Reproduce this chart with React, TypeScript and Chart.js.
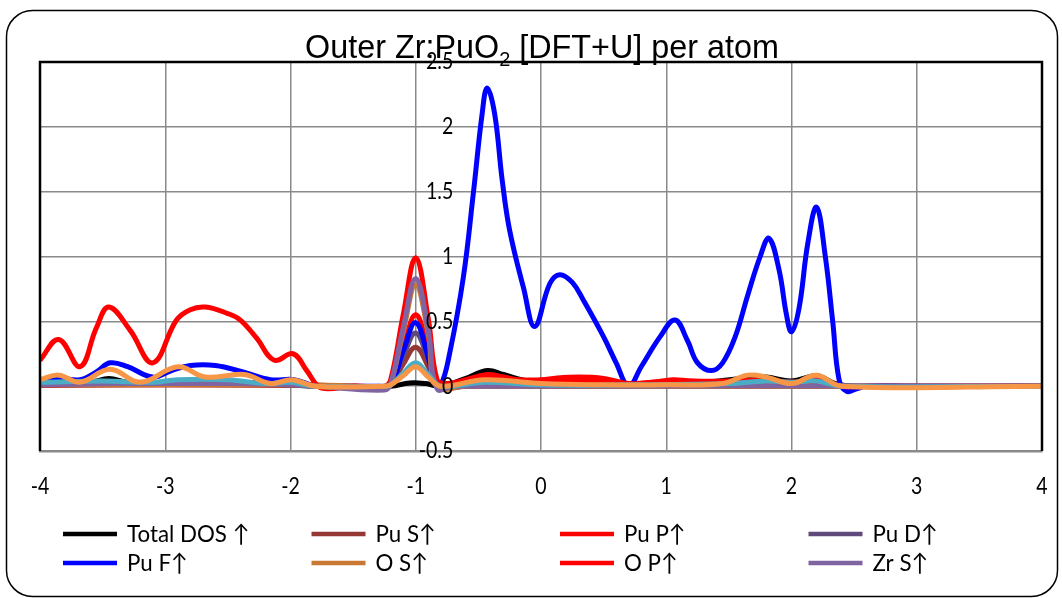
import { useEffect, useRef } from "react";
import { Chart, registerables } from "chart.js";

Chart.register(...registerables);

// Energy axis (eV) and DOS axis limits
const xTicks = [-4, -3, -2, -1, 0, 1, 2, 3, 4];
const yTicks = [-0.5, 0, 0.5, 1, 1.5, 2, 2.5];

// Total DOS
const totalX = [-4, -3.6, -3.45, -3.3, -3, -2.7, -2.4, -2, -1.8, -1.2, -1.05, -0.92, -0.8, -0.6, -0.43, -0.3, -0.1, 0.2, 0.5, 0.7, 1.0, 1.3, 1.6, 1.8, 2.0, 2.2, 2.35, 2.5, 4];
const totalY = [0.02, 0.03, 0.06, 0.03, 0.02, 0.03, 0.03, 0.01, 0, 0, 0.025, 0.02, 0, 0.06, 0.12, 0.09, 0.04, 0.04, 0.04, 0.01, 0.03, 0.03, 0.06, 0.07, 0.04, 0.08, 0.02, 0, 0];

// Pu s
const puSX = [-4, -3, -2, -1.5, -1.25, -1.2, -1.1, -1.0, -0.9, -0.83, -0.6, 4];
const puSY = [0.005, 0.01, 0.005, 0, -0.01, 0.01, 0.17, 0.3, 0.15, 0, 0, 0];

// Pu p
const puPX = [-4, -3, -2, -1.5, -1.25, -1.2, -1.1, -1.0, -0.9, -0.83, -0.6, -0.43, -0.2, 0.3, 0.7, 1.05, 1.5, 2.0, 2.4, 4];
const puPY = [0.01, 0.01, 0.01, 0, -0.01, 0.03, 0.3, 0.55, 0.28, 0.02, 0.04, 0.08, 0.05, 0.05, 0.02, 0.04, 0.03, 0.03, 0, 0];

// Pu d
const puDX = [-4, -3.4, -2.9, -2.4, -2, -1.8, -1.25, -1.2, -1.1, -1.0, -0.9, -0.83, -0.6, 4];
const puDY = [0.01, 0.02, 0.02, 0.02, 0.01, 0, -0.02, 0.01, 0.23, 0.41, 0.2, 0, 0, 0];

// Pu f
const puFX = [-4, -3.84, -3.68, -3.55, -3.44, -3.3, -3.1, -2.95, -2.8, -2.6, -2.38, -2.16, -1.97, -1.8, -1.6, -1.3, -1.2, -1.1, -1.0, -0.9, -0.85, -0.8, -0.73, -0.62, -0.54, -0.47, -0.43, -0.37, -0.31, -0.25, -0.14, -0.05, 0.07, 0.15, 0.25, 0.34, 0.5, 0.6, 0.7, 0.8, 0.95, 1.07, 1.17, 1.25, 1.36, 1.45, 1.55, 1.65, 1.75, 1.82, 1.9, 1.96, 2.0, 2.06, 2.13, 2.2, 2.27, 2.33, 2.38, 2.44, 2.52, 2.6, 3, 4];
const puFY = [0.04, 0.06, 0.05, 0.11, 0.18, 0.15, 0.07, 0.12, 0.16, 0.16, 0.11, 0.05, 0.05, 0, 0, 0, 0.01, 0.27, 0.49, 0.22, 0.03, 0.01, 0.25, 0.84, 1.49, 2.1, 2.3, 2.1, 1.59, 1.2, 0.76, 0.46, 0.79, 0.86, 0.8, 0.66, 0.38, 0.18, 0, 0.15, 0.38, 0.51, 0.35, 0.18, 0.12, 0.18, 0.38, 0.7, 1.0, 1.14, 0.9, 0.55, 0.42, 0.6, 1.1, 1.38, 1.0, 0.49, 0.05, -0.04, -0.02, 0, 0, 0];

// O s
const oSX = [-4, -3, -2, -1.5, -1.25, -1.2, -1.1, -1.0, -0.9, -0.83, -0.6, 4];
const oSY = [0.01, 0.01, 0.01, 0, -0.02, 0.02, 0.42, 0.78, 0.4, 0, 0, 0];

// O p
const oPX = [-4, -3.85, -3.68, -3.55, -3.45, -3.28, -3.1, -2.91, -2.8, -2.68, -2.5, -2.4, -2.27, -2.13, -1.98, -1.87, -1.78, -1.7, -1.5, -1.25, -1.2, -1.1, -1.0, -0.9, -0.83, -0.75, -0.6, -0.43, -0.3, -0.1, 0.1, 0.3, 0.5, 0.7, 0.9, 1.05, 1.2, 1.5, 1.8, 2.0, 2.2, 2.4, 2.6, 4];
const oPY = [0.2, 0.36, 0.15, 0.45, 0.61, 0.43, 0.18, 0.51, 0.59, 0.61, 0.56, 0.51, 0.37, 0.2, 0.25, 0.12, 0, -0.02, 0, 0, 0.05, 0.55, 0.99, 0.52, 0.05, 0.02, 0.05, 0.09, 0.07, 0.04, 0.06, 0.07, 0.06, 0.02, 0.03, 0.05, 0.04, 0.04, 0.05, 0.03, 0.05, 0, 0, 0];

// Zr s
const zrSX = [-4, -3.4, -2.9, -2.4, -2, -1.8, -1.25, -1.2, -1.1, -1.0, -0.9, -0.83, -0.7, 4];
const zrSY = [0.01, 0.02, 0.02, 0.02, 0.01, 0, -0.03, 0.02, 0.45, 0.83, 0.43, -0.02, 0, 0];

// Zr p
const zrPX = [-4, -3.5, -3.1, -2.9, -2.5, -2.2, -2, -1.8, -1.25, -1.2, -1.1, -1.0, -0.9, -0.8, -0.45, 0, 0.7, 1.5, 1.8, 2.0, 2.2, 2.4, 4];
const zrPY = [0.03, 0.04, 0.03, 0.05, 0.05, 0.02, 0.03, 0, 0, 0.01, 0.1, 0.18, 0.09, 0, 0.03, 0.01, 0.01, 0.02, 0.04, 0.03, 0.04, 0, 0];

// Zr d
const zrDX = [-4, -3.85, -3.68, -3.44, -3.2, -2.9, -2.68, -2.37, -2.16, -1.99, -1.8, -1.25, -1.2, -1.1, -1.0, -0.9, -0.8, -0.45, 0, 0.5, 1.0, 1.45, 1.65, 1.8, 2.0, 2.2, 2.4, 4];
const zrDY = [0.05, 0.085, 0.03, 0.13, 0.03, 0.15, 0.07, 0.09, 0.02, 0.05, 0, 0, 0.01, 0.08, 0.15, 0.07, 0, 0.05, 0.02, 0.01, 0.01, 0.02, 0.085, 0.07, 0.02, 0.085, 0, 0];

const seriesLabels = ["Total DOS ↑", "Pu S↑", "Pu P↑", "Pu D↑", "Pu F↑", "O S↑", "O P↑", "Zr S↑", "Zr P↑", "Zr D↑"];
const seriesColors = ["#000000", "#953735", "#FF0000", "#604A7B", "#0000FF", "#C87832", "#FF0000", "#8064A2", "#4BACC6", "#F79646"];
const seriesX = [totalX, puSX, puPX, puDX, puFX, oSX, oPX, zrSX, zrPX, zrDX];
const seriesY = [totalY, puSY, puPY, puDY, puFY, oSY, oPY, zrSY, zrPY, zrDY];
const legendCount = 8;

const LABEL_FONT = 'Lato, "Open Sans", sans-serif';
const TITLE_FONT = '"Liberation Sans", Arial, sans-serif';

// Draws text squeezed horizontally by sx around its anchor
function squeezedText(ctx: CanvasRenderingContext2D, text: string, x: number, y: number, sx: number) {
  ctx.save();
  ctx.translate(x, y);
  ctx.scale(sx, 1);
  ctx.fillText(text, 0, 0);
  ctx.restore();
}

const framePlugin = {
  id: "frame",
  beforeDraw(chart: Chart) {
    const ctx = chart.ctx;
    ctx.save();
    ctx.fillStyle = "#ffffff";
    ctx.fillRect(0, 0, chart.width, chart.height);
    ctx.strokeStyle = "#000000";
    ctx.lineWidth = 1.5;
    ctx.beginPath();
    ctx.roundRect(6.5, 10.5, 1051, 586, 26);
    ctx.stroke();
    ctx.restore();
  },
  afterDatasetsDraw(chart: Chart) {
    const { ctx, chartArea: a } = chart;
    ctx.save();
    ctx.strokeStyle = "#000000";
    ctx.lineWidth = 2.5;
    ctx.beginPath();
    ctx.moveTo(a.left, a.bottom);
    ctx.lineTo(a.left, a.top);
    ctx.lineTo(a.right, a.top);
    ctx.lineTo(a.right, a.bottom);
    ctx.stroke();

    // axis tick labels, drawn above the curves
    const xs = chart.scales.x;
    const ys = chart.scales.y;
    ctx.fillStyle = "#000000";
    ctx.font = `23px ${LABEL_FONT}`;
    ctx.textBaseline = "middle";
    ctx.textAlign = "center";
    for (const t of xs.ticks) {
      squeezedText(ctx, String(t.value), xs.getPixelForValue(t.value), 487, 0.85);
    }
    ctx.textAlign = "right";
    const yLabelRight = xs.getPixelForValue(-0.7);
    for (const t of ys.ticks) {
      squeezedText(ctx, String(t.value), yLabelRight, ys.getPixelForValue(t.value), 0.85);
    }
    ctx.restore();
  },
  afterDraw(chart: Chart) {
    const ctx = chart.ctx;
    ctx.save();
    // title with subscript, fitted to its width
    const size = 34;
    const parts: [string, boolean][] = [["Outer Zr:PuO", false], ["2", true], [" [DFT+U] per atom", false]];
    const fontMain = `${size}px ${TITLE_FONT}`;
    const fontSub = `${Math.round(size * 0.62)}px ${TITLE_FONT}`;
    let total = 0;
    for (const [t, sub] of parts) {
      ctx.font = sub ? fontSub : fontMain;
      total += ctx.measureText(t).width;
    }
    const titleWidth = 474;
    const sx = titleWidth / total;
    ctx.translate(542 - titleWidth / 2, 0);
    ctx.scale(sx, 1);
    let x = 0;
    ctx.fillStyle = "#000000";
    ctx.textBaseline = "alphabetic";
    ctx.textAlign = "left";
    for (const [t, sub] of parts) {
      ctx.font = sub ? fontSub : fontMain;
      ctx.fillText(t, x, sub ? 66 : 58);
      x += ctx.measureText(t).width;
    }
    ctx.setTransform(1, 0, 0, 1, 0, 0);
    // legend: two rows of four
    ctx.font = `24px ${LABEL_FONT}`;
    ctx.textBaseline = "middle";
    ctx.textAlign = "left";
    for (let i = 0; i < legendCount; i++) {
      const col = i % 4;
      const row = Math.floor(i / 4);
      const lx = 63 + col * 248.5;
      const ly = 534 + row * 29;
      ctx.strokeStyle = seriesColors[i];
      ctx.lineWidth = 4.5;
      ctx.beginPath();
      ctx.moveTo(lx, ly);
      ctx.lineTo(lx + 54, ly);
      ctx.stroke();
      ctx.fillStyle = "#000000";
      squeezedText(ctx, seriesLabels[i], lx + 64, ly, 0.93);
    }
    ctx.restore();
  },
};

export default function App() {
  const ref = useRef<HTMLCanvasElement>(null);
  useEffect(() => {
    document.body.style.margin = "0";
    const canvas = ref.current;
    if (!canvas) return;
    const datasets = seriesLabels.map((label, i) => ({
      label,
      data: seriesX[i].map((x, j) => ({ x, y: seriesY[i][j] })),
      borderColor: seriesColors[i],
      backgroundColor: seriesColors[i],
      borderWidth: 5,
      pointRadius: 0,
      showLine: true,
      tension: 0.4,
      order: seriesLabels.length - i,
    }));
    const chart = new Chart(canvas, {
      type: "scatter",
      data: { datasets },
      options: {
        animation: false,
        responsive: false,
        layout: { padding: { left: 40, right: 20, top: 62, bottom: 147 } },
        plugins: { legend: { display: false }, title: { display: false }, tooltip: { enabled: false } },
        scales: {
          x: {
            type: "linear",
            position: "bottom",
            min: xTicks[0],
            max: xTicks[xTicks.length - 1],
            afterFit: (s: any) => { s.height = 0; },
            afterBuildTicks: (s: any) => { s.ticks = xTicks.map((v) => ({ value: v })); },
            ticks: { display: false },
            grid: { color: "#8a8a8a", lineWidth: 1.5, drawTicks: false },
            border: { display: true, color: "#8a8a8a", width: 2.5 },
          },
          y: {
            type: "linear",
            position: { x: -0.72 } as any,
            min: yTicks[0],
            max: yTicks[yTicks.length - 1],
            afterBuildTicks: (s: any) => { s.ticks = yTicks.map((v) => ({ value: v })); },
            ticks: { display: false },
            grid: { color: "#8a8a8a", lineWidth: 1.5, drawTicks: false },
            border: { display: false },
          },
        },
      },
      plugins: [framePlugin],
    });
    return () => chart.destroy();
  }, []);
  return (
    <div style={{ width: 1062, height: 598 }}>
      <canvas ref={ref} width={1062} height={598} />
    </div>
  );
}
